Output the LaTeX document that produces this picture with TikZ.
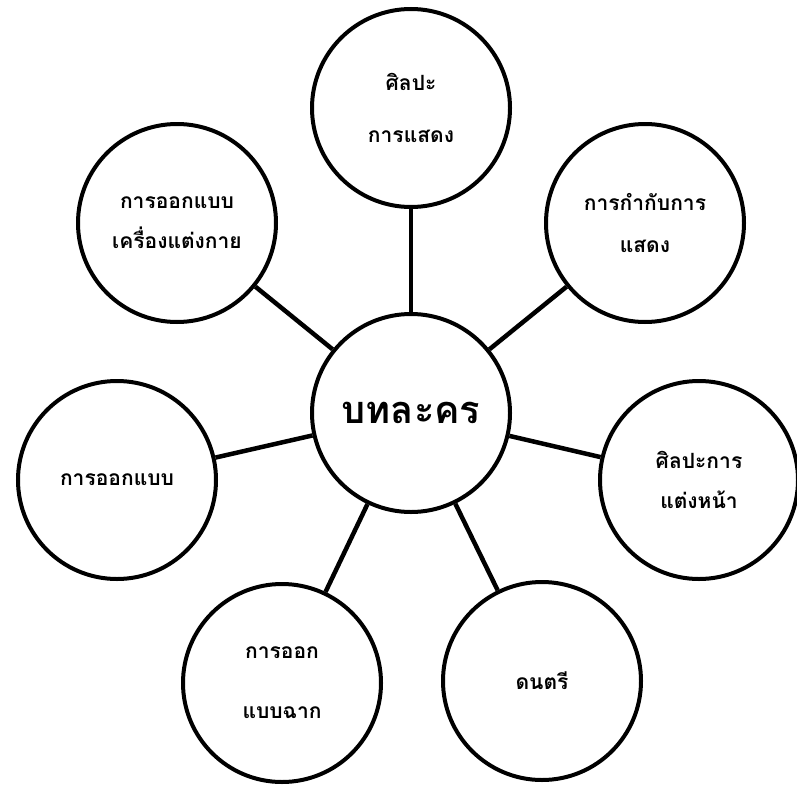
\documentclass[tikz,border=0pt]{standalone}
\usepackage{fontspec}
\newfontfamily\thaifont[Script=Thai]{Loma}
\tikzset{
	topic/.style={draw, circle, line width=4pt, minimum size=198pt, inner sep=0pt, align=center, font=\thaifont\bfseries\fontsize{21}{40}\selectfont},
	hub/.style={draw, circle, line width=4pt, minimum size=198pt, inner sep=0pt, font=\thaifont\bfseries\fontsize{38}{44}\selectfont},
	link/.style={line width=4.5pt}
}
\begin{document}
\begin{tikzpicture}[x=1pt,y=-1pt]
	\useasboundingbox (0,0) rectangle (797,784);

	\node [hub] (play) at (411,413) {บทละคร};

	\node [topic] (perf) at (411,108) {ศิลปะ\\[12pt]การแสดง};
	\node [topic] (direct) at (645,223) {การกำกับการ\\[2pt]แสดง};
	\node [topic] (makeup) at (699,480) {ศิลปะการ\\แต่งหน้า};
	\node [topic] (music) at (542,681) {ดนตรี};
	\node [topic] (scene) at (282,683) {การออก\\[20pt]แบบฉาก};
	\node [topic] (design) at (117,480) {การออกแบบ};
	\node [topic] (costume) at (177,223) {การออกแบบ\\เครื่องแต่งกาย};

	\foreach \n in {perf,direct,makeup,music,scene,design,costume}
		\draw [link] (play) -- (\n);
\end{tikzpicture}
\end{document}
